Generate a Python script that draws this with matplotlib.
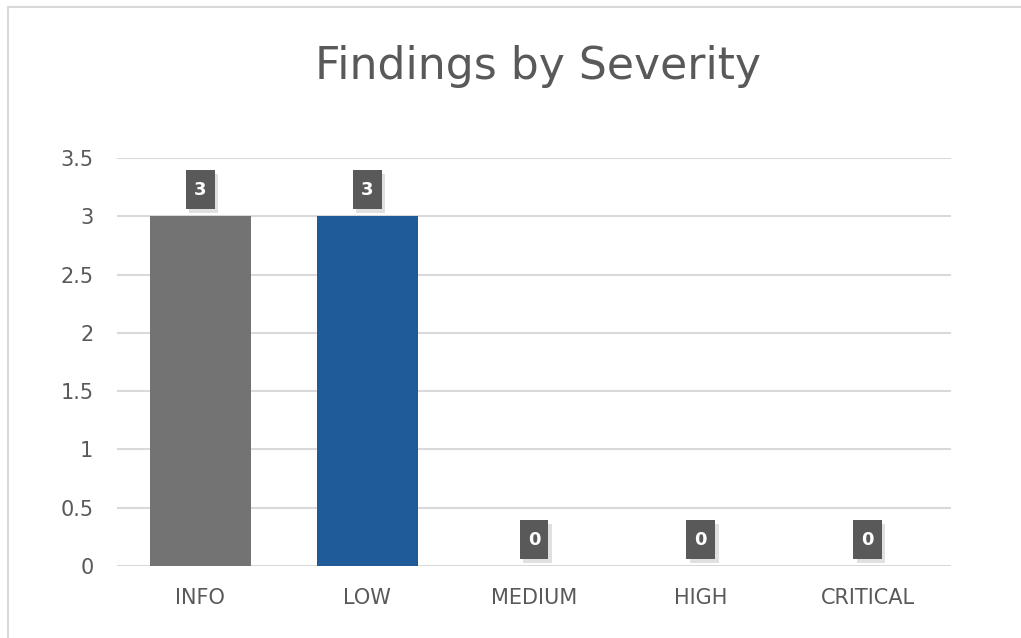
#!/usr/bin/env python3
"""
plot.py -- findings count per severity level, single bar chart.
"""
import matplotlib
matplotlib.use("Agg")
import matplotlib.pyplot as plt
import matplotlib.patheffects as pe
from matplotlib.lines import Line2D
from matplotlib.path import Path
from matplotlib.ticker import FuncFormatter, MultipleLocator

severities = ["INFO", "LOW", "MEDIUM", "HIGH", "CRITICAL"]
counts = [3, 3, 0, 0, 0]
bar_colors = ["#737373", "#1f5b99", "#e97132", "#c00000", "#7030a0"]

TEXT = "#595959"
GRID = "#d9d9d9"

plt.rcParams["font.family"] = ["DejaVu Sans"]


def label_box(x0, y0, width, height, mutation_size):
    """rectangle with separate horizontal / vertical padding."""
    px = 0.45 * mutation_size
    py = 0.58 * mutation_size
    x0, y0 = x0 - px, y0 - py
    x1, y1 = x0 + width + 2 * px, y0 + height + 2 * py
    return Path([(x0, y0), (x1, y0), (x1, y1), (x0, y1), (x0, y0)], closed=True)


def main() -> None:
    fig = plt.figure(figsize=(10.21, 6.38), dpi=100)
    ax = fig.add_axes([117 / 1021, 1 - 566 / 638, 834 / 1021, 408 / 638])

    xs = list(range(len(severities)))
    ax.bar(xs, counts, width=0.605, color=bar_colors, zorder=3)

    ax.set_xlim(-0.5, len(severities) - 0.5)
    ax.set_ylim(0, 3.5)
    ax.yaxis.set_major_locator(MultipleLocator(0.5))
    ax.yaxis.set_major_formatter(FuncFormatter(lambda v, _: f"{v:g}"))
    ax.grid(axis="y", color=GRID, linewidth=1.5, zorder=0)
    ax.set_axisbelow(True)
    for s in ax.spines.values():
        s.set_visible(False)
    ax.axhline(0, color=GRID, linewidth=2, zorder=2)

    ax.set_xticks(xs)
    ax.set_xticklabels(severities)
    ax.tick_params(axis="x", length=0, pad=16, labelsize=15, labelcolor=TEXT)
    ax.tick_params(axis="y", length=0, pad=17, labelsize=15, labelcolor=TEXT)

    # data labels: dark boxes above each bar
    for x, c in zip(xs, counts):
        t = ax.annotate(str(c), (x, c), xytext=(0, 12.5), textcoords="offset points",
                        ha="center", va="bottom", fontsize=13, fontweight="bold",
                        color="white", zorder=5,
                        bbox=dict(boxstyle=label_box, fc="#595959", ec="none"))
        t.get_bbox_patch().set_path_effects([
            pe.SimplePatchShadow(offset=(2.5, -2.5), shadow_rgbFace="#999999", alpha=0.3),
            pe.Normal(),
        ])

    fig.text(538 / 1021, 1 - 79 / 638, "Findings by Severity", ha="center", va="baseline",
             fontsize=31.8, color=TEXT)

    # chart frame, only the top and left edges fall inside the image
    fig.add_artist(Line2D([7.5 / 1021, 7.5 / 1021], [0, 1 - 6.5 / 638],
                          transform=fig.transFigure, color=GRID, linewidth=1.5))
    fig.add_artist(Line2D([7.5 / 1021, 1], [1 - 6.5 / 638, 1 - 6.5 / 638],
                          transform=fig.transFigure, color=GRID, linewidth=1.5))

    fig.savefig("out.png", dpi=100, facecolor="white")
    plt.close(fig)


if __name__ == "__main__":
    main()
